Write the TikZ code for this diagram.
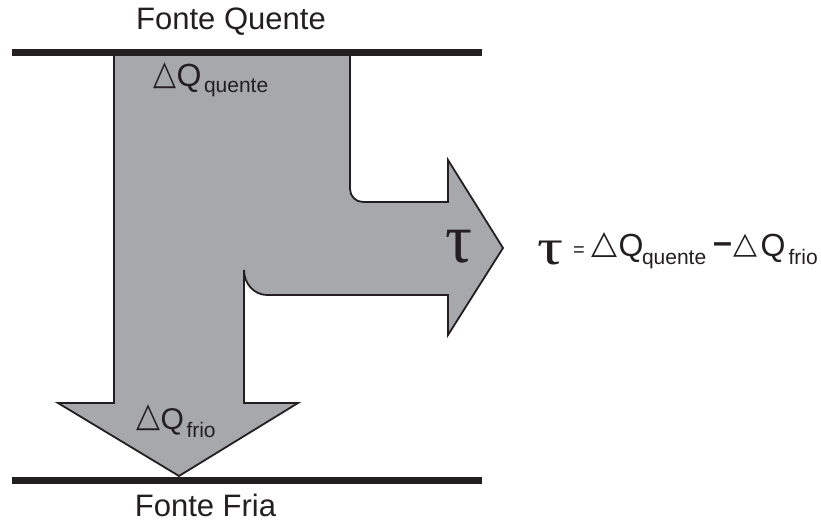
\documentclass[tikz,border=0pt]{standalone}
\usepackage[no-math]{fontspec}
\setmainfont{Liberation Sans}
\newfontfamily\serifgr{Liberation Serif}
\newfontfamily\dejavu{DejaVu Sans}
\usepackage{graphicx}
\definecolor{shapegray}{RGB}{167,168,172}
\definecolor{ink}{RGB}{35,31,32}
\newcommand\mytri[2]{\resizebox*{#1}{#2}{\dejavu △}}
\newcommand\mytau[2]{\resizebox*{#1}{#2}{\serifgr τ}}
\begin{document}
\begin{tikzpicture}[x=1pt,y=-1pt,
  tok/.style={inner sep=0pt, outer sep=0pt, text=ink},
  big/.style={tok, font=\fontsize{31}{31}\selectfont},
  qfont/.style={tok, font=\fontsize{32}{32}\selectfont},
  sub/.style={tok, font=\fontsize{21}{21}\selectfont},
  bar/.style={draw=ink, line width=7.5pt}]
\useasboundingbox (0,0) rectangle (821,526);
% main shape
\draw[draw=ink, line width=1.8pt, fill=shapegray, line join=miter]
  (114,52) -- (114,403) -- (58,403) -- (179,476) -- (298,403) -- (244,403) -- (244,270)
  .. controls (244,283.8) and (254.3,295) .. (267,295)
  -- (448,295) -- (448,335) -- (503,248) -- (448,160) -- (448,202) -- (363,202)
  .. controls (355.8,202) and (350,196.2) .. (350,189) -- (350,52) -- cycle;
% bars
\draw[bar] (12,52.4) -- (482,52.4);
\draw[bar] (12,480.5) -- (482,480.5);
% labels
\node[big, anchor=base] (hot) at (231,30) {Fonte Quente};
\node[big, anchor=base] (cold) at (205.5,516.7) {Fonte Fria};
% Delta Q quente
\node[tok, anchor=south west] (t1) at (153.5,88.5) {\mytri{23pt}{26pt}};
\node[qfont, anchor=base west] (q1) at (176.5,87) {Q};
\node[sub, anchor=base west] (s1) at (204,93) {quente};
% Delta Q frio
\node[tok, anchor=south west] (t2) at (136.5,430.5) {\mytri{24pt}{26pt}};
\node[tok, font=\fontsize{30}{30}\selectfont, anchor=base west] (q2) at (160.5,429.5) {Q};
\node[sub, anchor=base west] (s2) at (186.5,437) {frio};
% tau in arrow
\node[tok, anchor=south west] (tau1) at (445,263) {\mytau{27pt}{33pt}};
% formula
\node[tok, anchor=south west] (tau2) at (537,265) {\mytau{26pt}{24pt}};
\node[tok, font=\fontsize{20}{20}\selectfont, anchor=base west] (eq) at (573,257) {=};
\node[tok, anchor=south west] (t3) at (591.5,257.5) {\mytri{26pt}{25pt}};
\node[qfont, anchor=base west] (q3) at (618.5,257) {Q};
\node[sub, anchor=base west] (s3) at (642,265) {quente};
\node[tok, font=\fontsize{34}{34}\selectfont\bfseries, anchor=base west] (minus) at (713,254) {–};
\node[tok, anchor=south west] (t4) at (733.5,257.5) {\mytri{24pt}{23pt}};
\node[qfont, anchor=base west] (q4) at (760.5,257) {Q};
\node[sub, anchor=base west] (s4) at (788.5,265) {frio};
\end{tikzpicture}
\end{document}
